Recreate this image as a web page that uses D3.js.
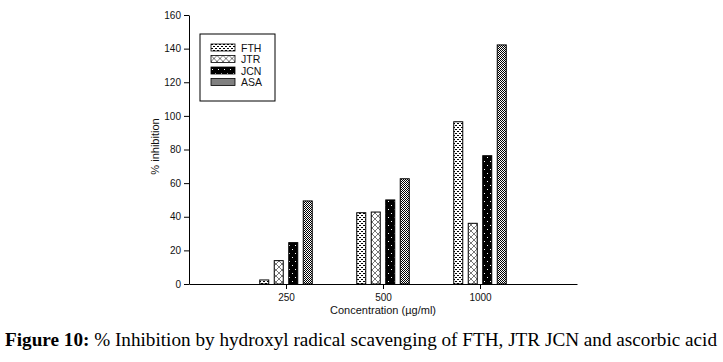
<!DOCTYPE html>
<html>
<head>
<meta charset="utf-8">
<script src="https://cdn.jsdelivr.net/npm/d3@7"></script>
<style>
  body { margin: 0; background: #fff; }
  svg { display: block; }
</style>
</head>
<body>
<div id="chart"></div>
<script>
// data
const concentrations = ['250', '500', '1000']
const seriesNames = ['FTH', 'JTR', 'JCN', 'ASA']
const FTH = [2.4, 42.4, 96.5]
const JTR = [13.9, 42.8, 36.1]
const JCN = [24.6, 50, 76.3]
const ASA = [49.4, 62.6, 142.2]
const yTicks = [0, 20, 40, 60, 80, 100, 120, 140, 160]

const series = [FTH, JTR, JCN, ASA]

const W = 723, H = 362
const MARGIN = { TOP: 15, LEFT: 189, RIGHT: 146, BOTTOM: 78 }
const WIDTH = W - MARGIN.LEFT - MARGIN.RIGHT
const HEIGHT = H - MARGIN.TOP - MARGIN.BOTTOM

const svg = d3.select('#chart').append('svg')
  .attr('width', W)
  .attr('height', H)

// ─── PATTERNS ─────────────────────────────────────────
const defs = svg.append('defs')

const pFTH = defs.append('pattern').attr('id', 'p0')
  .attr('patternUnits', 'userSpaceOnUse').attr('width', 4).attr('height', 4)
pFTH.append('rect').attr('width', 4).attr('height', 4).attr('fill', '#fff')
pFTH.append('rect').attr('x', 0).attr('y', 0).attr('width', 2).attr('height', 1).attr('fill', '#000')
pFTH.append('rect').attr('x', 2).attr('y', 2).attr('width', 2).attr('height', 1).attr('fill', '#000')

const pJTR = defs.append('pattern').attr('id', 'p1')
  .attr('patternUnits', 'userSpaceOnUse').attr('width', 6).attr('height', 6)
pJTR.append('rect').attr('width', 6).attr('height', 6).attr('fill', '#fff')
pJTR.append('path').attr('d', 'M0,0 L6,6 M6,0 L0,6')
  .attr('stroke', '#555').attr('stroke-width', 0.8).attr('fill', 'none')

const pJCN = defs.append('pattern').attr('id', 'p2')
  .attr('patternUnits', 'userSpaceOnUse').attr('width', 6).attr('height', 8)
pJCN.append('rect').attr('width', 6).attr('height', 8).attr('fill', '#000')
pJCN.append('rect').attr('x', 1).attr('y', 2).attr('width', 1).attr('height', 1).attr('fill', '#fff')
pJCN.append('rect').attr('x', 4).attr('y', 6).attr('width', 1).attr('height', 1).attr('fill', '#fff')

const pASA = defs.append('pattern').attr('id', 'p3')
  .attr('patternUnits', 'userSpaceOnUse').attr('width', 2).attr('height', 2)
pASA.append('rect').attr('width', 2).attr('height', 2).attr('fill', '#fff')
pASA.append('rect').attr('x', 0).attr('y', 0).attr('width', 1).attr('height', 1).attr('fill', '#000')
pASA.append('rect').attr('x', 1).attr('y', 1).attr('width', 1).attr('height', 1).attr('fill', '#000')

const g = svg.append('g')
  .attr('transform', `translate(${MARGIN.LEFT}, ${MARGIN.TOP})`)

// ─── SCALES ───────────────────────────────────────────
// categories sit at 1, 2, 3 on a 0..4 axis
const x = d3.scaleLinear().domain([0, 4]).range([0, WIDTH])
const y = d3.scaleLinear().domain([0, 160]).range([HEIGHT, 0])

const barW = 9
const step = 14.5

// ─── BARS ─────────────────────────────────────────────
series.forEach((vals, s) => {
  g.selectAll('.bar' + s)
    .data(vals)
    .enter().append('rect')
      .attr('class', 'bar' + s)
      .attr('x', (d, i) => x(i + 1) + (s - 1.5) * step - barW / 2)
      .attr('y', d => y(d))
      .attr('width', barW)
      .attr('height', d => y(0) - y(d))
      .attr('fill', `url(#p${s})`)
      .attr('stroke', '#000')
      .attr('stroke-width', 1)
})

// ─── AXES ─────────────────────────────────────────────
const yAxis = g.append('g')
  .call(d3.axisLeft(y).tickValues(yTicks).tickSize(5).tickSizeOuter(0))
const xAxis = g.append('g')
  .attr('transform', `translate(0, ${HEIGHT})`)
  .call(d3.axisBottom(x).tickValues([1, 2, 3])
    .tickFormat((d, i) => concentrations[i]).tickSize(5).tickSizeOuter(0))

;[yAxis, xAxis].forEach(a => {
  a.selectAll('text').attr('font-family', 'Arial, "Liberation Sans", sans-serif')
    .attr('font-size', 10).attr('fill', '#111')
  a.select('.domain').attr('stroke', '#000')
  a.selectAll('line').attr('stroke', '#000')
})
yAxis.selectAll('text').attr('x', -8)
xAxis.selectAll('text').attr('y', 10)

// ─── LABELS ───────────────────────────────────────────
g.append('text')
  .attr('x', WIDTH / 2)
  .attr('y', HEIGHT + 30)
  .attr('text-anchor', 'middle')
  .attr('font-family', 'Arial, "Liberation Sans", sans-serif')
  .attr('font-size', 11)
  .attr('fill', '#111')
  .text('Concentration (µg/ml)')

g.append('text')
  .attr('x', -(y(0) + y(160)) / 2 + 3)
  .attr('y', -30)
  .attr('transform', 'rotate(-90)')
  .attr('text-anchor', 'middle')
  .attr('font-family', 'Arial, "Liberation Sans", sans-serif')
  .attr('font-size', 11)
  .attr('fill', '#111')
  .text('% inhibition')

// ─── LEGEND ───────────────────────────────────────────
const legend = svg.append('g').attr('transform', 'translate(200, 34)')
legend.append('rect')
  .attr('width', 75).attr('height', 67)
  .attr('fill', '#fff').attr('stroke', '#000').attr('stroke-width', 1)

const items = legend.selectAll('.item')
  .data(seriesNames)
  .enter().append('g')
    .attr('transform', (d, i) => `translate(11, ${10 + i * 11.5})`)
items.append('rect')
  .attr('width', 24).attr('height', 7)
  .attr('fill', (d, i) => `url(#p${i})`)
  .attr('stroke', '#000').attr('stroke-width', 0.8)
items.append('text')
  .attr('x', 30).attr('y', 7.5)
  .attr('font-family', 'Arial, "Liberation Sans", sans-serif')
  .attr('font-size', 10.5)
  .attr('fill', '#111')
  .text(d => d)

// ─── CAPTION ──────────────────────────────────────────
const cap = svg.append('text')
  .attr('x', 5).attr('y', 346)
  .attr('font-family', '"Liberation Serif", "Times New Roman", serif')
  .attr('font-size', 18)
  .attr('fill', '#000')
  .attr('textLength', 712)
  .attr('lengthAdjust', 'spacingAndGlyphs')
cap.append('tspan').attr('font-weight', 'bold').text('Figure 10:')
cap.append('tspan').text(' % Inhibition by hydroxyl radical scavenging of FTH, JTR JCN and ascorbic acid')
</script>
</body>
</html>
